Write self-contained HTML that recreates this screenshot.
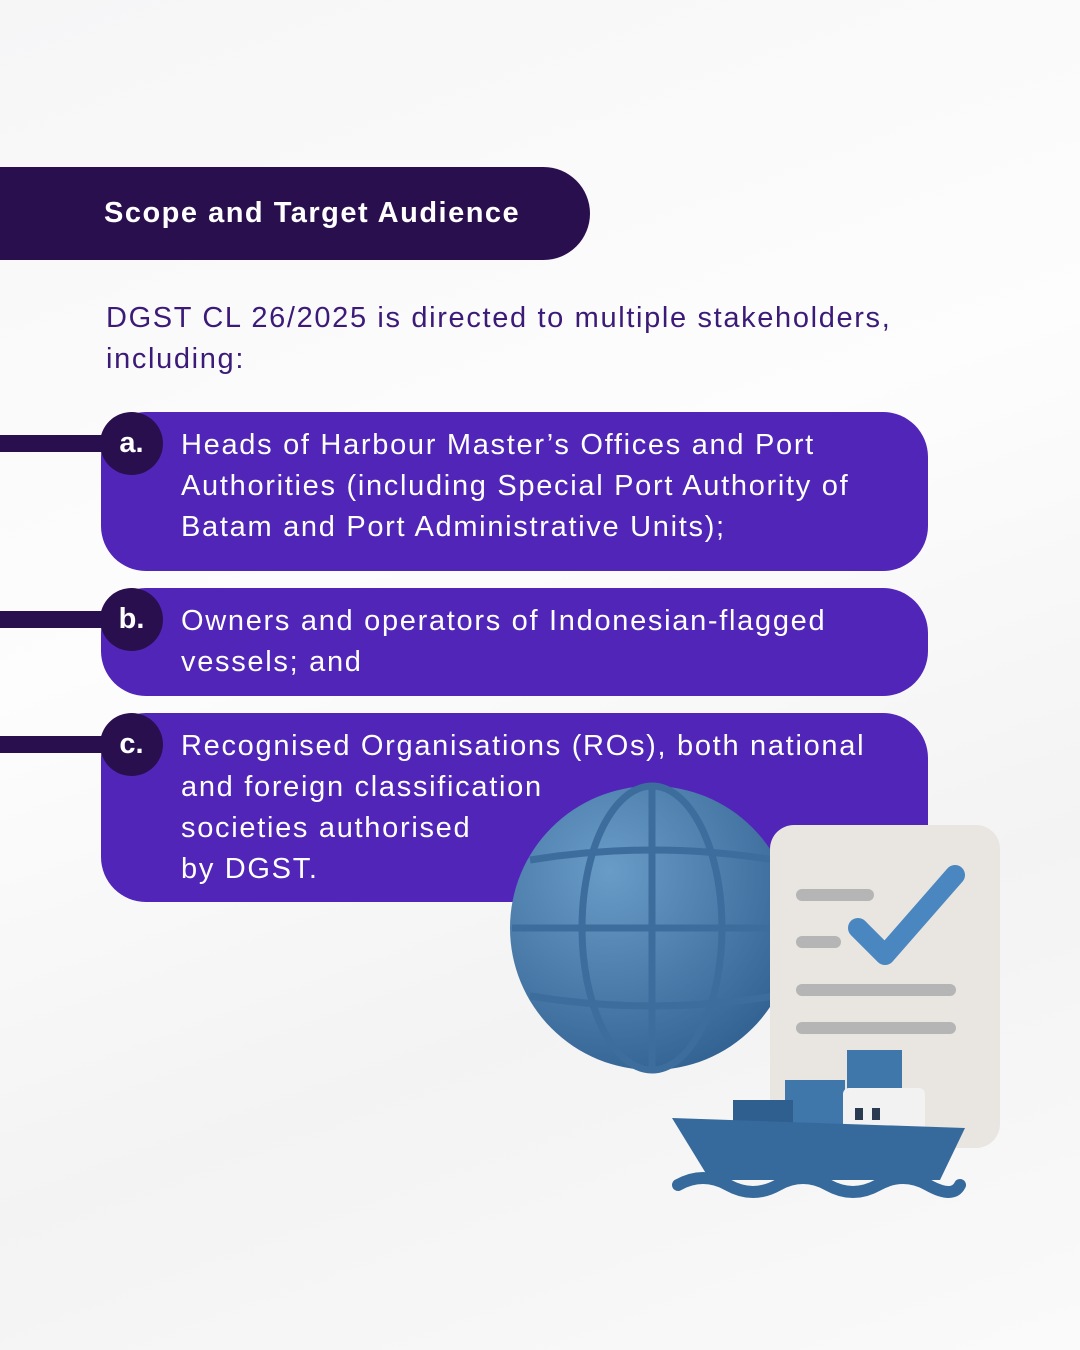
<!DOCTYPE html>
<html><head><meta charset="utf-8"><style>
body{margin:0;width:1080px;height:1350px;overflow:hidden;font-family:"Liberation Sans",sans-serif;background:linear-gradient(160deg,#f6f6f7 0%,#fdfdfd 40%,#f3f3f4 70%,#fafafa 100%);position:relative}
.hdr{position:absolute;left:0;top:167px;width:590px;height:93px;background:#2a0f4f;border-radius:0 47px 47px 0;color:#fff;font-weight:bold;font-size:29px;line-height:93px;padding-left:104px;box-sizing:border-box;letter-spacing:1.5px;white-space:nowrap}
.intro{position:absolute;left:106px;top:298px;font-size:29px;line-height:41px;color:#3b1a78;letter-spacing:1.65px;white-space:nowrap}
.card{position:absolute;left:101px;width:827px;background:#5025b8;border-radius:45px;color:#fff;font-size:29px;line-height:41px;padding:13px 0 0 80px;box-sizing:border-box;letter-spacing:1.7px;white-space:nowrap}
.line{position:absolute;left:0;width:110px;height:17px;background:#2a0f4f}
.circ{position:absolute;left:100px;width:63px;height:63px;border-radius:50%;background:#2a0f4f;color:#fff;font-weight:bold;font-size:29px;text-align:center;line-height:63px}
</style></head><body>
<div class="hdr">Scope and Target Audience</div>
<div class="intro">DGST CL 26/2025 is directed to multiple stakeholders,<br>including:</div>

<div class="card" style="top:412px;height:159px">Heads of Harbour Master’s Offices and Port<br>Authorities (including Special Port Authority of<br>Batam and Port Administrative Units);</div>
<div class="line" style="top:435px"></div><div class="circ" style="top:412px">a.</div>

<div class="card" style="top:588px;height:108px">Owners and operators of Indonesian-flagged<br>vessels; and</div>
<div class="line" style="top:611px"></div><div class="circ" style="top:588px">b.</div>

<div class="card" style="top:713px;height:189px">Recognised Organisations (ROs), both national<br>and foreign classification<br>societies authorised<br>by DGST.</div>
<div class="line" style="top:736px"></div><div class="circ" style="top:713px">c.</div>

<svg style="position:absolute;left:0;top:0" width="1080" height="1350">
<defs><radialGradient id="g" cx="0.35" cy="0.3" r="0.8"><stop offset="0" stop-color="#6a9cc8"/><stop offset="1" stop-color="#2f5f8f"/></radialGradient></defs>
<circle cx="652" cy="928" r="142" fill="url(#g)"/>
<g stroke="#3c6d9c" stroke-width="7" fill="none">
<ellipse cx="652" cy="928" rx="70" ry="142"/><line x1="652" y1="786" x2="652" y2="1070"/>
<line x1="512" y1="928" x2="794" y2="928"/><path d="M530 860 Q652 840 774 860"/><path d="M530 996 Q652 1016 774 996"/></g>
<rect x="770" y="825" width="230" height="323" rx="24" fill="#e9e6e1"/>
<g stroke="#b5b5b5" stroke-width="12" stroke-linecap="round"><line x1="802" y1="895" x2="868" y2="895"/><line x1="802" y1="942" x2="835" y2="942"/><line x1="802" y1="990" x2="950" y2="990"/><line x1="802" y1="1028" x2="950" y2="1028"/></g>
<path d="M858 928 L885 955 L955 875" stroke="#4a86c0" stroke-width="20" fill="none" stroke-linecap="round" stroke-linejoin="round"/>
<rect x="847" y="1050" width="55" height="40" fill="#3f77aa"/>
<rect x="785" y="1080" width="60" height="70" fill="#3f77aa"/>
<rect x="733" y="1100" width="60" height="50" fill="#2f5f8f"/>
<rect x="843" y="1088" width="82" height="62" rx="6" fill="#f2f2f2"/>
<rect x="855" y="1108" width="8" height="12" fill="#2a3a50"/><rect x="872" y="1108" width="8" height="12" fill="#2a3a50"/>
<path d="M672 1118 L965 1128 L940 1180 L710 1180 Z" fill="#366a9c"/>
<path d="M678 1185 q25 -14 50 0 q25 14 50 0 q25 -14 50 0 q25 14 50 0 q25 -14 50 0 q25 14 32 0" stroke="#366a9c" stroke-width="12" fill="none" stroke-linecap="round"/>
</svg>
</body></html>
